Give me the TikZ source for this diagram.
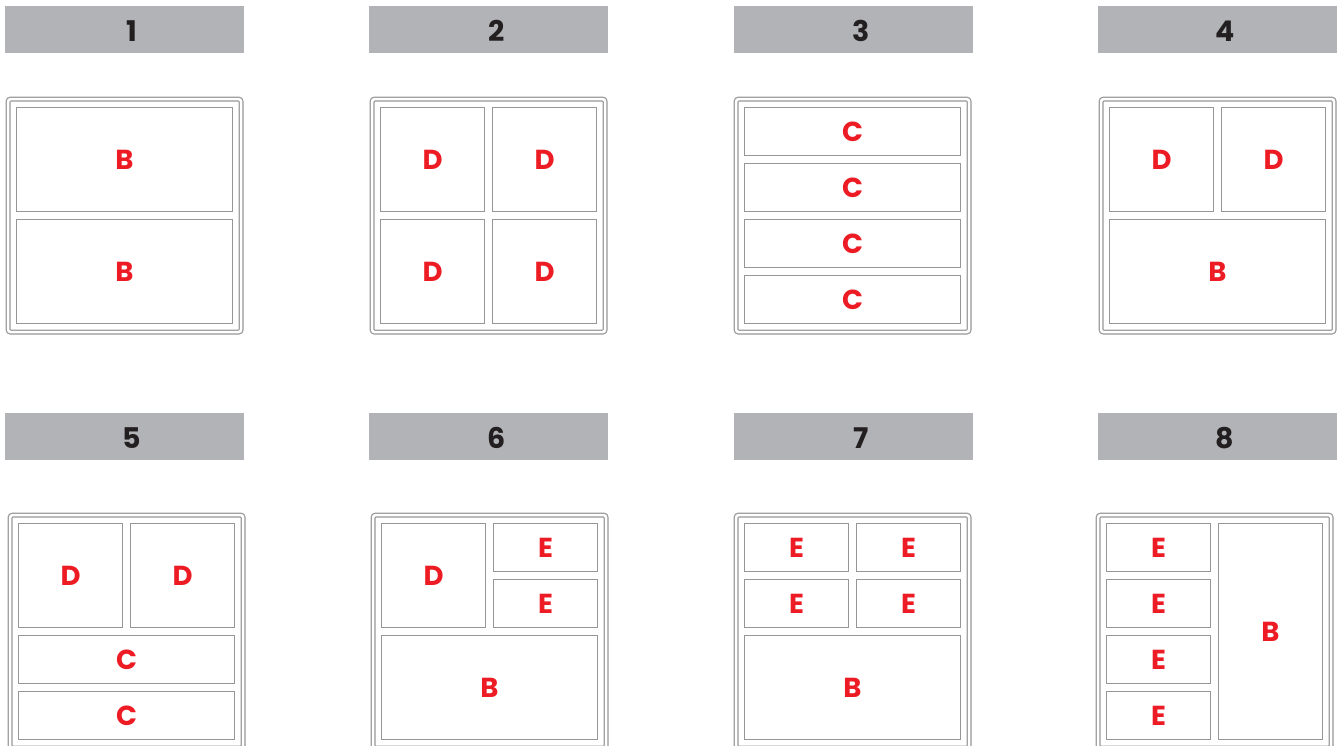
\documentclass[tikz,border=0pt]{standalone}
\usepackage{fontspec}
\setmainfont{Poppins}
\usepackage{xcolor}
\usetikzlibrary{positioning}
\definecolor{headgray}{RGB}{177,179,182}
\definecolor{numblack}{RGB}{35,31,32}
\definecolor{labelred}{RGB}{237,28,36}
\definecolor{linegray}{RGB}{150,150,150}

% one compartment of a panel: panel, id, column, row, columns, rows, label
\newcommand{\pcell}[7]{%
  \node[cell, minimum width={112*#5-8}, minimum height={56*#6-8}]
    (c#1#2) at ([shift={({8.5+112*#3},{8.5+56*#4})}]f#1.north west) {#7};
}

\begin{document}
\begin{tikzpicture}[
  x=1pt, y=-1pt,
  header/.style={fill=headgray, draw=none, minimum width=239pt, minimum height=47pt,
                 anchor=north west, inner sep=0pt},
  numtext/.style={inner sep=0pt, text=numblack, font=\fontsize{28.5}{28.5}\selectfont\bfseries},
  panelframe/.style={draw=linegray, double=white, double distance=2.6pt, line width=1.2pt,
                     rounded corners=2.5pt, minimum size=233pt, anchor=north west, inner sep=0pt},
  cell/.style={draw=linegray, line width=1pt, anchor=north west, inner sep=0pt,
               text=labelred, font=\fontsize{27.5}{27.5}\selectfont\bfseries}
]
\useasboundingbox (0,0) rectangle (1339,745);

% Headers and frames
\foreach \n/\hx/\hy/\fx/\fy in {1/5/6/5/96, 2/369/6/369/96, 3/734/6/733/96, 4/1098/6/1098/96,
                                5/5/413/7/512, 6/369/413/370/512, 7/734/413/733/512, 8/1098/413/1095/512}{
  \node[header] (h\n) at (\hx,\hy) {};
  \node[numtext] (n\n) at ([shift={(7.5,1.5)}]h\n.center) {\n};
  \node[panelframe] (f\n) at (\fx+2.5,\fy+2.5) {};
}

% Panel 1
\pcell{1}{a}{0}{0}{2}{2}{B}
\pcell{1}{b}{0}{2}{2}{2}{B}

% Panel 2
\pcell{2}{a}{0}{0}{1}{2}{D}
\pcell{2}{b}{1}{0}{1}{2}{D}
\pcell{2}{c}{0}{2}{1}{2}{D}
\pcell{2}{d}{1}{2}{1}{2}{D}

% Panel 3
\pcell{3}{a}{0}{0}{2}{1}{C}
\pcell{3}{b}{0}{1}{2}{1}{C}
\pcell{3}{c}{0}{2}{2}{1}{C}
\pcell{3}{d}{0}{3}{2}{1}{C}

% Panel 4
\pcell{4}{a}{0}{0}{1}{2}{D}
\pcell{4}{b}{1}{0}{1}{2}{D}
\pcell{4}{c}{0}{2}{2}{2}{B}

% Panel 5
\pcell{5}{a}{0}{0}{1}{2}{D}
\pcell{5}{b}{1}{0}{1}{2}{D}
\pcell{5}{c}{0}{2}{2}{1}{C}
\pcell{5}{d}{0}{3}{2}{1}{C}

% Panel 6
\pcell{6}{a}{0}{0}{1}{2}{D}
\pcell{6}{b}{1}{0}{1}{1}{E}
\pcell{6}{c}{1}{1}{1}{1}{E}
\pcell{6}{d}{0}{2}{2}{2}{B}

% Panel 7
\pcell{7}{a}{0}{0}{1}{1}{E}
\pcell{7}{b}{1}{0}{1}{1}{E}
\pcell{7}{c}{0}{1}{1}{1}{E}
\pcell{7}{d}{1}{1}{1}{1}{E}
\pcell{7}{e}{0}{2}{2}{2}{B}

% Panel 8
\pcell{8}{a}{0}{0}{1}{1}{E}
\pcell{8}{b}{0}{1}{1}{1}{E}
\pcell{8}{c}{0}{2}{1}{1}{E}
\pcell{8}{d}{0}{3}{1}{1}{E}
\pcell{8}{e}{1}{0}{1}{4}{B}

\end{tikzpicture}
\end{document}
